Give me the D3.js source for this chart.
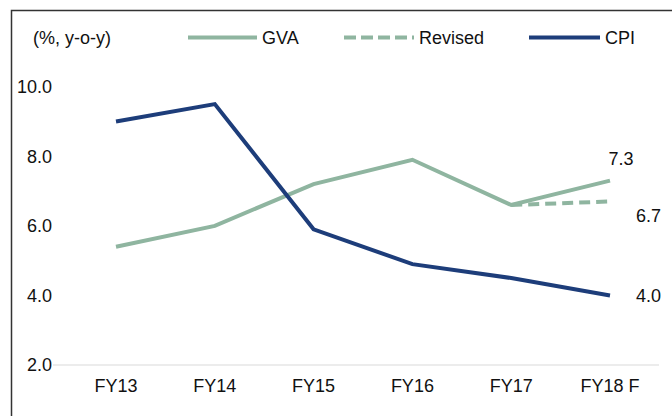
<!DOCTYPE html>
<html>
<head>
<meta charset="utf-8">
<script src="https://cdn.jsdelivr.net/npm/d3@7"></script>
<style>
  body { margin: 0; background: #fff; }
  text { font-family: "Liberation Sans", Arial, sans-serif; fill: #111; }
</style>
</head>
<body>
<div id="chart"></div>
<script>
const categories = ["FY13", "FY14", "FY15", "FY16", "FY17", "FY18 F"];
const gva = [5.4, 6.0, 7.2, 7.9, 6.6, 7.3];
const revised = [null, null, null, null, 6.6, 6.7];
const cpi = [9.0, 9.5, 5.9, 4.9, 4.5, 4.0];
const yTicks = [2, 4, 6, 8, 10];

const W = 672, H = 416;
const GREEN = "#8fb5a0", NAVY = "#1d3d7a";
const FS = 18;

const svg = d3.select("#chart").append("svg")
    .attr("width", W).attr("height", H);

// frame (only top and left visible)
svg.append("path")
    .attr("d", "M11.5,416 V10.5 H672")
    .attr("fill", "none")
    .attr("stroke", "#333")
    .attr("stroke-width", 1.5);

const x = d3.scalePoint().domain(categories).range([66.6, 659.4]).padding(0.5);
const y = d3.scaleLinear().domain([2, 10]).range([365, 86.7]);

// baseline
svg.append("line")
    .attr("x1", 53).attr("x2", 659)
    .attr("y1", y(2)).attr("y2", y(2))
    .attr("stroke", "#d9d9d9").attr("stroke-width", 1.2);

// y tick labels
svg.append("g").selectAll("text").data(yTicks).enter().append("text")
    .attr("x", 52)
    .attr("y", d => y(d))
    .attr("dy", "0.35em")
    .attr("text-anchor", "end")
    .attr("font-size", FS)
    .text(d => d.toFixed(1));

// x labels
svg.append("g").selectAll("text").data(categories).enter().append("text")
    .attr("x", d => x(d))
    .attr("y", 392)
    .attr("text-anchor", "middle")
    .attr("font-size", FS)
    .text(d => d);

const line = d3.line()
    .defined(d => d.v != null)
    .x(d => x(d.c))
    .y(d => y(d.v));

const toPts = arr => arr.map((v, i) => ({c: categories[i], v: v}));

svg.append("path")
    .datum(toPts(revised))
    .attr("d", line)
    .attr("fill", "none")
    .attr("stroke", GREEN)
    .attr("stroke-width", 4)
    .attr("stroke-dasharray", "11,6");

svg.append("path")
    .datum(toPts(gva))
    .attr("d", line)
    .attr("fill", "none")
    .attr("stroke", GREEN)
    .attr("stroke-width", 4);

svg.append("path")
    .datum(toPts(cpi))
    .attr("d", line)
    .attr("fill", "none")
    .attr("stroke", NAVY)
    .attr("stroke-width", 4);

// end-point labels
const last = categories.length - 1;
svg.append("text")
    .attr("x", x(categories[last]) + 11)
    .attr("y", y(gva[last]) - 22)
    .attr("dy", "0.35em")
    .attr("text-anchor", "middle")
    .attr("font-size", FS)
    .text(gva[last].toFixed(1));
svg.append("text")
    .attr("x", x(categories[last]) + 26)
    .attr("y", y(revised[last]) + 14)
    .attr("dy", "0.35em")
    .attr("font-size", FS)
    .text(revised[last].toFixed(1));
svg.append("text")
    .attr("x", x(categories[last]) + 26)
    .attr("y", y(cpi[last]))
    .attr("dy", "0.35em")
    .attr("font-size", FS)
    .text(cpi[last].toFixed(1));

// legend
const ly = 37.5;
svg.append("text")
    .attr("x", 33).attr("y", ly).attr("dy", "0.35em")
    .attr("font-size", FS)
    .text("(%, y-o-y)");

const legend = [
    {name: "GVA", color: GREEN, dash: null, x0: 188, x1: 257},
    {name: "Revised", color: GREEN, dash: "12,5", x0: 344, x1: 414},
    {name: "CPI", color: NAVY, dash: null, x0: 529, x1: 600}
];
const lg = svg.append("g").selectAll("g").data(legend).enter().append("g");
lg.append("line")
    .attr("x1", d => d.x0).attr("x2", d => d.x1)
    .attr("y1", ly).attr("y2", ly)
    .attr("stroke", d => d.color)
    .attr("stroke-width", 4)
    .attr("stroke-dasharray", d => d.dash);
lg.append("text")
    .attr("x", d => d.x1 + 5)
    .attr("y", ly)
    .attr("dy", "0.35em")
    .attr("font-size", FS)
    .text(d => d.name);
</script>
</body>
</html>
